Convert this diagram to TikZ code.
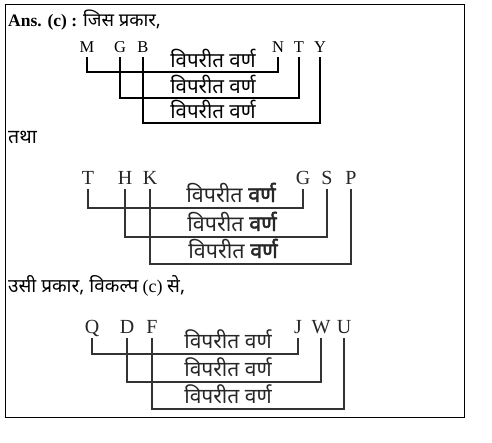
\documentclass[tikz,border=0pt]{standalone}
\usepackage{fontspec}
\setmainfont{Liberation Serif}
\newfontfamily\deva[Script=Devanagari]{Noto Sans}
\newfontfamily\devab[Script=Devanagari,FakeBold=2]{Noto Sans}
\begin{document}
\begin{tikzpicture}[x=1pt,y=-1pt,
  letA/.style={font=\fontsize{16.5}{16.5}\selectfont, inner sep=0pt, outer sep=5pt, text height=11pt, text depth=0pt, anchor=base},
  letB/.style={font=\fontsize{20}{20}\selectfont, inner sep=0pt, outer sep=5pt, text height=14pt, text depth=0pt, anchor=base, text=black!85},
  lblA/.style={font=\deva\fontsize{20.5}{20.5}\selectfont, inner sep=0pt, anchor=base},
  lblB/.style={font=\deva\fontsize{21.5}{21.5}\selectfont, inner sep=0pt, anchor=base, text=black!85},
  lblC/.style={font=\deva\fontsize{21}{21}\selectfont, inner sep=0pt, anchor=base, text=black!85},
  connA/.style={line width=1.6pt, black},
  connB/.style={line width=1.8pt, black!80},
  head/.style={inner sep=0pt, anchor=base west, font=\fontsize{17}{17}\selectfont}
]
\useasboundingbox (0,0) rectangle (492,442);
\node[draw, line width=1.2pt, inner sep=0pt, minimum width=459.5pt, minimum height=413.5pt, anchor=north west] (frame) at (4.5,3.5) {};

% headers
\node[head] (h1) at (8,26) {\fontsize{17.5}{17.5}\selectfont\textbf{Ans. (c) :} {\deva\fontsize{18.5}{18.5}\selectfont जिस प्रकार,}};
\node[head] (h2) at (8,143) {\deva\fontsize{19.5}{19.5}\selectfont तथा};
\node[head] (h3) at (8,292) {{\deva\fontsize{19}{19}\selectfont उसी प्रकार, विकल्प} \fontsize{18}{18}\selectfont(c) {\deva\fontsize{19}{19}\selectfont से,}};

% diagram 1
\node[letA] (M) at (87,52) {M};
\node[letA] (G1) at (120,52) {G};
\node[letA] (B) at (143,52) {B};
\node[letA] (N) at (278,52) {N};
\node[letA] (T1) at (299,52) {T};
\node[letA] (Y) at (320,52) {Y};
\node[lblA] (a1) at (213,67) {विपरीत वर्ण};
\node[lblA] (a2) at (213,93) {विपरीत वर्ण};
\node[lblA] (a3) at (213,118) {विपरीत वर्ण};
\draw[connA] (M.south) -- ++(0,15) -| (N.south);
\draw[connA] (G1.south) -- ++(0,41) -| (T1.south);
\draw[connA] (B.south) -- ++(0,66) -| (Y.south);

% diagram 2
\node[letB] (T2) at (88,184) {T};
\node[letB] (H) at (125,184) {H};
\node[letB] (K) at (150,184) {K};
\node[letB] (G2) at (303,184) {G};
\node[letB] (S) at (327,184) {S};
\node[letB] (P) at (351,184) {P};
\node[lblB] (b1) at (231,202) {विपरीत {\devab वर्ण}};
\node[lblB] (b2) at (232,231) {विपरीत {\devab वर्ण}};
\node[lblB] (b3) at (233,258) {विपरीत {\devab वर्ण}};
\draw[connB] (T2.south) -- ++(0,19) -| (G2.south);
\draw[connB] (H.south) -- ++(0,48) -| (S.south);
\draw[connB] (K.south) -- ++(0,75) -| (P.south);

% diagram 3
\node[letB] (Q) at (92,333) {Q};
\node[letB] (D) at (127,333) {D};
\node[letB] (F) at (152,333) {F};
\node[letB] (J) at (298,333) {J};
\node[letB] (W) at (321,333) {W};
\node[letB] (U) at (344,333) {U};
\node[lblC] (c1) at (228,348) {विपरीत वर्ण};
\node[lblC] (c2) at (228,376) {विपरीत वर्ण};
\node[lblC] (c3) at (228,403) {विपरीत वर्ण};
\draw[connB] (Q.south) -- ++(0,16) -| (J.south);
\draw[connB] (D.south) -- ++(0,44) -| (W.south);
\draw[connB] (F.south) -- ++(0,71) -| (U.south);
\end{tikzpicture}
\end{document}
